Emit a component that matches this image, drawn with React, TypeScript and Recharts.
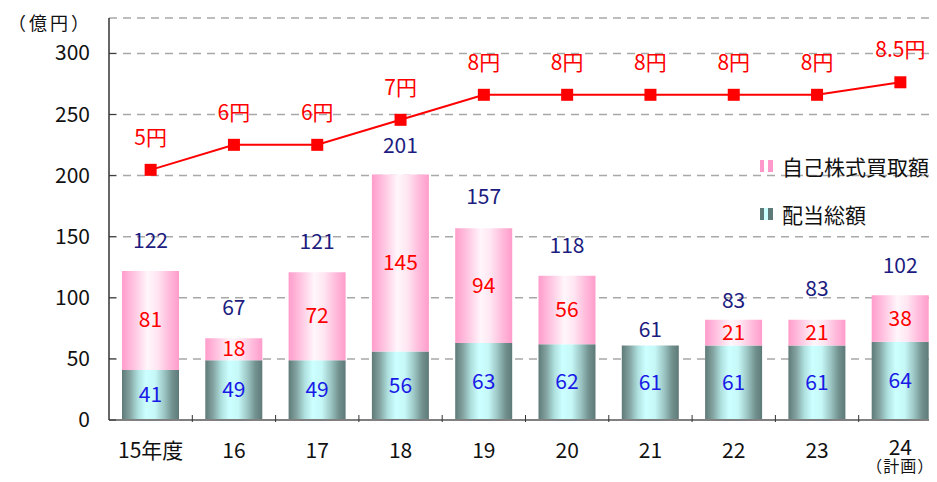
import { ComposedChart, Bar, Line, XAxis, YAxis, CartesianGrid, LabelList } from "recharts";

const years = ["15年度", "16", "17", "18", "19", "20", "21", "22", "23", "24\n（計画）"];
const dividends = [41, 49, 49, 56, 63, 62, 61, 61, 61, 64];
const buybacks = [81, 18, 72, 145, 94, 56, 0, 21, 21, 38];
const totals = [122, 67, 121, 201, 157, 118, 61, 83, 83, 102];
const perShare = [5, 6, 6, 7, 8, 8, 8, 8, 8, 8.5];
const yTicks = [0, 50, 100, 150, 200, 250, 300];

const legendItems = [
  { name: "自己株式買取額", swatch: "linear-gradient(to right,#ff99cc 0 30%,#fff 30% 60%,#ff99cc 60%)" },
  { name: "配当総額", swatch: "linear-gradient(to right,#5e7a78 0 30%,#ccffff 30% 60%,#5e7a78 60%)" },
];

const chartData = years.map((year, i) => ({
  year,
  dividend: dividends[i],
  buyback: buybacks[i],
  total: totals[i],
  perShare: perShare[i],
}));

// how far the total label sits above each bar (the source nudges a few by hand)
const totalLift = [30, 30, 30, 28, 31, 30, 15, 19, 31, 29];

const FONT = "'Noto Sans CJK JP', 'Noto Sans', sans-serif";
const NUM_SIZE = 21;

// eslint-disable-next-line @typescript-eslint/no-explicit-any
function YTick({ x, y, payload }: any) {
  return (
    <g>
      <line x1={x + 19} x2={x + 26} y1={y} y2={y} stroke="#333" />
      <text x={x} y={y} dy={7} textAnchor="end" fontSize={NUM_SIZE} fill="#111">
        {payload.value}
      </text>
    </g>
  );
}

// eslint-disable-next-line @typescript-eslint/no-explicit-any
function XTick({ x, y, payload, index }: any) {
  const lines = String(payload.value).split("\n");
  const half = payload.offset ?? 41.65;
  const two = lines.length > 1;
  return (
    <g>
      {index > 0 && <line x1={x - half} x2={x - half} y1={y - 7} y2={y} stroke="#333" />}
      <text x={x} y={y + (two ? 33 : 36)} textAnchor="middle" fontSize={NUM_SIZE} fill="#111">
        {lines[0]}
      </text>
      {two && (
        <text x={x} y={y + 50} textAnchor="middle" fontSize={16} letterSpacing={1} fill="#111">
          {lines[1]}
        </text>
      )}
    </g>
  );
}

function innerLabel(color: string) {
  // eslint-disable-next-line @typescript-eslint/no-explicit-any
  return (props: any) => {
    const { x, y, width, height, value } = props;
    if (!value) return null;
    return (
      <text x={x + width / 2} y={y + height / 2} dy={7} textAnchor="middle" fontSize={NUM_SIZE} fill={color}>
        {value}
      </text>
    );
  };
}

// sits on the dividend bar so it still shows when the buyback is zero
// eslint-disable-next-line @typescript-eslint/no-explicit-any
function TotalLabel({ x, y, width, height, index }: any) {
  const top = y - (height * buybacks[index]) / dividends[index];
  return (
    <text x={x + width / 2} y={top - totalLift[index]} dy={7} textAnchor="middle" fontSize={NUM_SIZE} fill="#1c1c80">
      {totals[index]}
    </text>
  );
}

// eslint-disable-next-line @typescript-eslint/no-explicit-any
function YenLabel({ x, y, value }: any) {
  return (
    <text x={x} y={y - 32} dy={7} textAnchor="middle" fontSize={NUM_SIZE} fill="#ff0000">
      {value}円
    </text>
  );
}

// eslint-disable-next-line @typescript-eslint/no-explicit-any
function SquareDot({ cx, cy, index }: any) {
  return <rect key={index} x={cx - 6} y={cy - 6} width={12} height={12} fill="#ff0000" />;
}

export default function App() {
  return (
    <div style={{ margin: -8, width: 937, height: 482, overflow: "hidden", position: "relative", fontFamily: FONT, background: "#fff" }}>
      <div style={{ position: "absolute", left: 8, top: 9, fontSize: 18, letterSpacing: 3, color: "#111" }}>（億円）</div>

      <ComposedChart width={950} height={482} data={chartData} margin={{ top: 18, right: 8, bottom: 0, left: 29 }}>
        <defs>
          <linearGradient id="tealGrad" x1="0" y1="0" x2="1" y2="0">
            <stop offset="0%" stopColor="#5e7a78" />
            <stop offset="14%" stopColor="#84a4a2" />
            <stop offset="28%" stopColor="#ade0de" />
            <stop offset="42%" stopColor="#ccffff" />
            <stop offset="58%" stopColor="#c6f8f8" />
            <stop offset="74%" stopColor="#9cc6c4" />
            <stop offset="88%" stopColor="#72928f" />
            <stop offset="100%" stopColor="#5e7a78" />
          </linearGradient>
          <linearGradient id="pinkGrad" x1="0" y1="0" x2="1" y2="0">
            <stop offset="0%" stopColor="#ff9ccb" />
            <stop offset="22%" stopColor="#ffc6e2" />
            <stop offset="45%" stopColor="#fff6fb" />
            <stop offset="62%" stopColor="#ffe6f2" />
            <stop offset="82%" stopColor="#ffbcdc" />
            <stop offset="100%" stopColor="#ff9ccb" />
          </linearGradient>
        </defs>
        <CartesianGrid vertical={false} stroke="#a8a8a8" strokeWidth={1.5} strokeDasharray="8 6" />
        <XAxis
          dataKey="year"
          interval={0}
          height={62}
          tickSize={0}
          tickLine={false}
          axisLine={{ stroke: "#808080", strokeWidth: 2 }}
          tick={<XTick />}
        />
        <YAxis
          domain={[0, 329]}
          ticks={yTicks}
          interval={0}
          width={80}
          tickSize={0}
          tickMargin={19}
          tickLine={false}
          axisLine={{ stroke: "#333", strokeWidth: 1.5 }}
          tick={<YTick />}
        />
        <YAxis yAxisId="yen" orientation="right" hide domain={[-5, 11.07]} />
        <Bar dataKey="dividend" stackId="a" fill="url(#tealGrad)" barSize={57} isAnimationActive={false}>
          <LabelList dataKey="dividend" content={innerLabel("#1a1ae6")} />
          <LabelList dataKey="total" content={<TotalLabel />} />
        </Bar>
        <Bar dataKey="buyback" stackId="a" fill="url(#pinkGrad)" barSize={57} isAnimationActive={false}>
          <LabelList dataKey="buyback" content={innerLabel("#ff0000")} />
        </Bar>
        <Line
          yAxisId="yen"
          type="linear"
          dataKey="perShare"
          stroke="#ff0000"
          strokeWidth={2}
          dot={<SquareDot />}
          activeDot={false}
          isAnimationActive={false}
        >
          <LabelList dataKey="perShare" content={<YenLabel />} />
        </Line>
      </ComposedChart>

      {legendItems.map((item, i) => (
        <div
          key={item.name}
          style={{ position: "absolute", left: 760, top: 152 + i * 48, display: "flex", alignItems: "center", height: 28 }}
        >
          <span style={{ width: 13, height: 12, background: item.swatch, marginRight: 9 }} />
          <span style={{ fontSize: 21, color: "#111" }}>{item.name}</span>
        </div>
      ))}
    </div>
  );
}
